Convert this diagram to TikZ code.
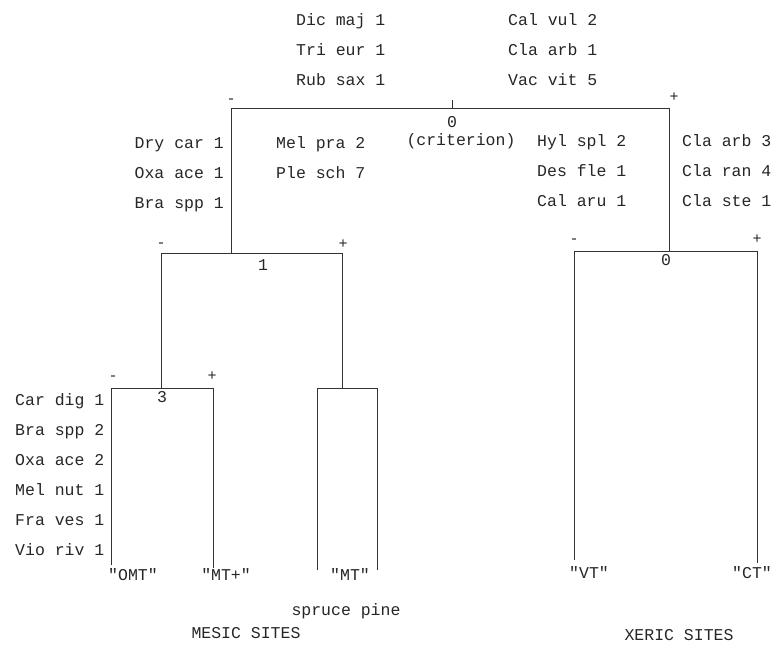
\documentclass[tikz,border=0pt]{standalone}
\usepackage{fontspec}
\setmonofont{Liberation Mono}
\usepackage{tikz}
\usetikzlibrary{positioning}

\begin{document}
\begin{tikzpicture}[
    x=1pt, y=-1pt,
    every node/.style={font=\ttfamily\fontsize{16.5}{18}\selectfont, inner sep=0pt, text=black!85},
    spl/.style={anchor=base west},
    spr/.style={anchor=base east},
    site/.style={anchor=base},
    sgn/.style={font=\ttfamily\fontsize{15}{15}\selectfont},
    branch/.style={line width=0.9pt, black!80}
]
    \useasboundingbox (0,0) rectangle (775,648);

    % Division 0 (criterion): top bar with its tick
    \coordinate (d0) at (452,108);
    \coordinate (d0tick) at (452,100);
    \coordinate (d0L) at (231,108);
    \coordinate (d0R) at (669,108);
    \draw[branch] (d0L) -- (d0R);
    \draw[branch] (d0) -- (d0tick);
    \node[sgn] (d0minus) at (231,101) {-};
    \node[sgn] (d0plus) at (674,97) {+};
    \node[site] (d0num) at (452,127) {0};
    \node[site] (crit) at (461,145) {(criterion)};

    % Indicator species of division 0
    \node[spl] (dic) at (296,25) {Dic maj 1};
    \node[spl] (tri) at (296,55) {Tri eur 1};
    \node[spl] (rub) at (296,85) {Rub sax 1};
    \node[spl] (calv) at (508,25) {Cal vul 2};
    \node[spl] (claa) at (508,55) {Cla arb 1};
    \node[spl] (vac) at (508,85) {Vac vit 5};

    % Mesic branch: division 1
    \coordinate (d1) at (231,253);
    \coordinate (d1L) at (161,253);
    \coordinate (d1R) at (342,253);
    \draw[branch] (d0L) -- (d1);
    \draw[branch] (d1L) -- (d1R);
    \node[sgn] (d1minus) at (161,245) {-};
    \node[sgn] (d1plus) at (343,244) {+};
    \node[site] (d1num) at (263,270) {1};

    \node[spr] (dry) at (224,148) {Dry car 1};
    \node[spr] (oxa1) at (224,178) {Oxa ace 1};
    \node[spr] (bra1) at (224,208) {Bra spp 1};
    \node[spl] (melp) at (276,148) {Mel pra 2};
    \node[spl] (ple) at (276,178) {Ple sch 7};

    % Division 3: "OMT" versus "MT+"
    \coordinate (d3) at (161,388);
    \coordinate (d3L) at (111,388);
    \coordinate (d3R) at (213,388);
    \coordinate (omtEnd) at (111,565);
    \coordinate (mtpEnd) at (213,568);
    \draw[branch] (d1L) -- (d3);
    \draw[branch] (omtEnd) -- (d3L) -- (d3R) -- (mtpEnd);
    \node[sgn] (d3minus) at (113,378) {-};
    \node[sgn] (d3plus) at (212,376) {+};
    \node[site] (d3num) at (162,402) {3};

    \node[spl] (car) at (15,405) {Car dig 1};
    \node[spl] (bra2) at (15,435) {Bra spp 2};
    \node[spl] (oxa2) at (15,465) {Oxa ace 2};
    \node[spl] (meln) at (15,495) {Mel nut 1};
    \node[spl] (fra) at (15,525) {Fra ves 1};
    \node[spl] (vio) at (15,555) {Vio riv 1};

    % "MT" group
    \coordinate (mt) at (342,388);
    \coordinate (mtL) at (317,388);
    \coordinate (mtR) at (377,388);
    \coordinate (mtLEnd) at (317,570);
    \coordinate (mtREnd) at (377,570);
    \draw[branch] (d1R) -- (mt);
    \draw[branch] (mtLEnd) -- (mtL) -- (mtR) -- (mtREnd);

    % Xeric branch: division 0
    \coordinate (x0) at (669,251);
    \coordinate (x0L) at (574,251);
    \coordinate (x0R) at (757,251);
    \coordinate (vtEnd) at (574,560);
    \coordinate (ctEnd) at (757,563);
    \draw[branch] (d0R) -- (x0);
    \draw[branch] (vtEnd) -- (x0L) -- (x0R) -- (ctEnd);
    \node[sgn] (x0minus) at (574,241) {-};
    \node[sgn] (x0plus) at (757,239) {+};
    \node[site] (x0num) at (666,265) {0};

    \node[spl] (hyl) at (537,146) {Hyl spl 2};
    \node[spl] (des) at (537,176) {Des fle 1};
    \node[spl] (cala) at (537,206) {Cal aru 1};
    \node[spl] (clab) at (682,146) {Cla arb 3};
    \node[spl] (clar) at (682,176) {Cla ran 4};
    \node[spl] (clas) at (682,206) {Cla ste 1};

    % Site types and groups
    \node[site] (omt) at (133,580) {"OMT"};
    \node[site] (mtp) at (226,580) {"MT+"};
    \node[site] (mtlbl) at (350,580) {"MT"};
    \node[site] (spruce) at (346,615) {spruce pine};
    \node[site] (vt) at (589,578) {"VT"};
    \node[site] (ct) at (752,578) {"CT"};
    \node[site] (mesic) at (246,638) {MESIC SITES};
    \node[site] (xeric) at (679,640) {XERIC SITES};

\end{tikzpicture}
\end{document}
